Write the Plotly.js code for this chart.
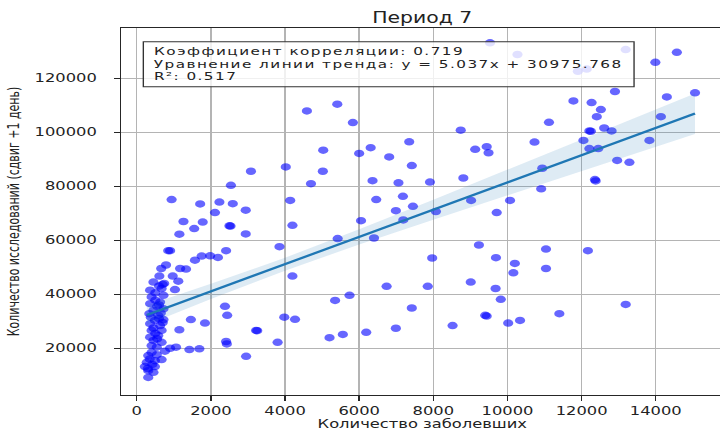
<!DOCTYPE html>
<html><head><meta charset="utf-8">
<script src="https://cdn.plot.ly/plotly-3.0.1.min.js"></script>
<style>
html,body{margin:0;padding:0;overflow:hidden;background:#fff;width:720px;height:431px}
#wrap{width:720px;height:431px;overflow:hidden;position:relative}
#chart{width:532px;height:431px;transform:scaleX(1.36);transform-origin:0 0}
#chart text.annotation-text{letter-spacing:1.08px}
</style>
</head><body><div id="wrap"><div id="chart"></div></div>
<script>
// ---- data ----
const casesX = [4590,5410,5830,5030,6000,6310,6810,7350,7420,3080,4020,5020,6360,
 9530,10270,11900,12140,13190,14570,13990,12900,11780,12270,12520,12410,14300,15060,14140,
 8740,11120,12210,12250,12610,12810,12050,13830,10730,9130,9440,9490,12210,12450,10940,12960,13290,
 8810,12360,12380,7910,2540,4700,7060,940,1710,2230,2590,2110,2940,4140,6460,7180,6990,7450,
 1260,1780,1550,2500,2530,1150,2940,4200,6050,7190,5420,6400,3850,900,850,2410,1980,2190,1750,1570,
 790,660,1170,1330,610,970,450,740,700,1120,4200,6740,7850,7970,
 10910,9020,10070,8070,9710,9230,11040,12170,9690,10200,10160,11040,9010,9680,
 5350,5740,2380,2440,1460,1840,1150,3980,4270,3220,3250,2410,2430,3800,5200,5560,6190,6990,7420,
 2950,1420,1690,1060,900,760,9820,9400,9440,8520,10020,10340,11400,13190,
 360,670,1030,400,720,360,630,450,720,340,580,490,720,360,630,400,670,360,580,450,670,540,
 310,540,670,270,490,220,490,310,450,310,
 500,550,600,450,500,550,400,600,650,700,400,350,600,500,380,300,420];
const testsY = [107800,110300,103500,93300,92100,94200,90800,96400,87600,85500,87100,85500,82000,
 133000,128700,122500,123300,130500,129500,125800,115000,111500,110900,108300,105700,113000,114500,105700,
 100700,103600,100400,100300,101500,100400,96900,96900,96300,93600,94600,92300,93900,93900,86600,89500,88800,
 83000,82400,81900,81500,80300,80900,81200,75000,73400,74100,73500,70200,71100,74700,75000,76200,70900,72500,
 66900,66700,64300,65300,65200,62200,62300,65500,67200,67500,60600,60800,57600,56100,56100,56100,54200,53600,54100,52600,
 50800,49500,49500,49300,46700,46700,44500,44000,43600,44800,46700,42900,42900,53400,
 79000,74700,74700,70600,70200,58200,56700,56100,53500,51400,47900,49500,44500,42100,
 37700,39600,35500,32200,30600,29300,26800,31500,30700,26600,26500,22500,21600,22200,23900,25100,25900,27400,34900,
 17000,19500,19800,20400,20000,18900,38100,32200,31900,28400,29300,30300,32800,36200,
 41500,42100,41700,39000,39600,36500,37100,34000,34600,32800,32200,30300,30600,29100,28400,26600,26600,24100,24700,22900,22200,20400,
 17300,17600,15800,14800,15400,13200,13200,11700,11100,9200,
 40500,35500,31000,27500,25500,23500,21000,36000,33000,29500,18500,16000,43000,37800,31500,12500,14000];

const trendX = [270, 15060];
const trendY = [32340, 106830];
const ciX = [270, 2000, 4000, 6000, 8000, 10000, 12000, 15060];
const ciUpper = [35900, 43850, 53500, 64000, 74950, 86150, 97400, 114300];
const ciLower = [28700, 38250, 48700, 58400, 67550, 76550, 85400, 99300];

const xTicks = [0,2000,4000,6000,8000,10000,12000,14000];
const yTicks = [20000,40000,60000,80000,100000,120000];

const titleText = 'Период 7';
const xTitle = 'Количество заболевших';
const yTitle = 'Количество исследований (сдвиг +1 день)';
const corr = '0.719', slope = '5.037', intercept = '30975.768', r2 = '0.517';
const statLines = [
  'Коэффициент корреляции: ' + corr,
  'Уравнение линии тренда: y = ' + slope + 'x + ' + intercept,
  'R²: ' + r2
];
const statY = [0.9371, 0.9008, 0.8670];

const FONT = 'DejaVu Sans, sans-serif';
const TXT = '#222';
const LS = 1.08; // css letter-spacing of the stats text (px)

const traces = [
  {x: casesX, y: testsY, type: 'scatter', mode: 'markers',
   marker: {color: '#0000ff', opacity: 0.6, size: 7.5, line: {width: 0}}, hoverinfo: 'skip'},
  {x: ciX, y: ciLower, type: 'scatter', mode: 'lines', line: {width: 0}, hoverinfo: 'skip'},
  {x: ciX, y: ciUpper, type: 'scatter', mode: 'lines', line: {width: 0}, fill: 'tonexty',
   fillcolor: 'rgba(31,119,180,0.15)', hoverinfo: 'skip'},
  {x: trendX, y: trendY, type: 'scatter', mode: 'lines', line: {color: '#1f77b4', width: 2.2}, hoverinfo: 'skip'}
];

const annotations = statLines.map((t, i) => ({
  text: t, xref: 'paper', yref: 'paper', x: 0.0508, y: statY[i],
  xanchor: 'left', yanchor: 'middle', showarrow: false,
  xshift: (t.length - 1) * LS / 2,
  font: {family: FONT, size: 11.2, color: TXT}
}));

const layout = {
  width: 532, height: 431,
  margin: {l: 89, r: 0, t: 28, b: 36},
  paper_bgcolor: '#fff', plot_bgcolor: '#fff',
  showlegend: false,
  font: {family: FONT, color: TXT},
  title: {text: titleText, font: {family: FONT, size: 15, color: TXT},
          x: 0.5, xref: 'paper', y: 1 - 18/431, yref: 'container', yanchor: 'middle'},
  xaxis: {range: [-424, 15829], tickvals: xTicks, tickformat: 'd',
          showgrid: true, gridcolor: '#b4b4b4', gridwidth: 1, zeroline: false,
          showline: true, linecolor: '#262626', linewidth: 1, mirror: true,
          ticks: 'outside', ticklen: 4.5, tickwidth: 1, tickcolor: '#262626',
          tickfont: {family: FONT, size: 12, color: TXT},
          title: {text: xTitle, font: {family: FONT, size: 12, color: TXT}, standoff: 4}},
  yaxis: {range: [2700, 138500], tickvals: yTicks, tickformat: 'd',
          showgrid: true, gridcolor: '#b4b4b4', gridwidth: 1, zeroline: false,
          showline: true, linecolor: '#262626', linewidth: 1, mirror: true,
          ticks: 'outside', ticklen: 4.4, tickwidth: 1, tickcolor: '#262626',
          ticklabelstandoff: 10,
          tickfont: {family: FONT, size: 12, color: TXT},
          title: {text: yTitle, font: {family: FONT, size: 11, color: TXT}, standoff: 8}},
  shapes: [{type: 'rect', xref: 'paper', yref: 'paper', x0: 0.037, x1: 0.8515, y0: 0.840, y1: 0.9627,
            line: {color: '#333', width: 1}, fillcolor: 'rgba(255,255,255,0.8)', layer: 'above'}],
  annotations: annotations
};

Plotly.newPlot('chart', traces, layout, {displayModeBar: false, staticPlot: true});
</script>
</body></html>
